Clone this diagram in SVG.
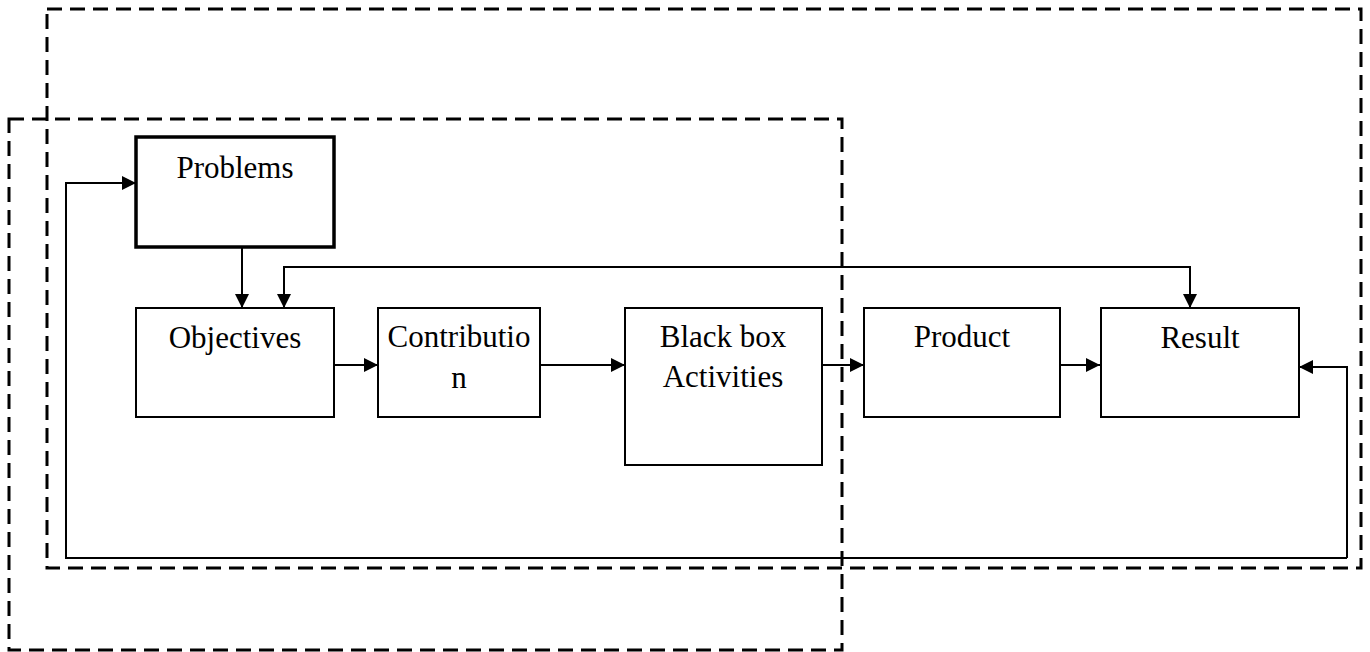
<svg xmlns="http://www.w3.org/2000/svg" width="1370" height="652" viewBox="0 0 1370 652">
  <defs>
    <style>
      .frame { fill: none; stroke: #000; stroke-width: 3; stroke-dasharray: 15 8; }
      .box { fill: #fff; stroke: #000; stroke-width: 2; }
      .box-bold { fill: #fff; stroke: #000; stroke-width: 3.5; }
      .label { font-family: "Liberation Serif", "Times New Roman", serif; font-size: 31px; fill: #000; text-anchor: middle; }
      .wire { fill: none; stroke: #000; stroke-width: 2; }
    </style>
    <marker id="arrow" viewBox="0 0 14 14" refX="14" refY="7" markerWidth="14" markerHeight="14" markerUnits="userSpaceOnUse" orient="auto">
      <path d="M0,0 L14,7 L0,14 Z" fill="#000"/>
    </marker>
  </defs>

  <rect width="1370" height="652" fill="#fff"/>

  <!-- dashed grouping frames -->
  <g id="frames">
    <rect class="frame" x="47" y="9" width="1314" height="559"/>
    <rect class="frame" x="9" y="119" width="833" height="531"/>
  </g>

  <!-- connectors -->
  <g id="connectors">
    <path class="wire" d="M242,247 V308" marker-end="url(#arrow)"/>
    <path class="wire" d="M1190,267 H284 V308" marker-end="url(#arrow)"/>
    <path class="wire" d="M284,267 H1190 V308" marker-end="url(#arrow)"/>
    <path class="wire" d="M334,365 H378" marker-end="url(#arrow)"/>
    <path class="wire" d="M540,365 H625" marker-end="url(#arrow)"/>
    <path class="wire" d="M822,365 H864" marker-end="url(#arrow)"/>
    <path class="wire" d="M1060,365 H1100" marker-end="url(#arrow)"/>
    <path class="wire" d="M1347,558 V367 H1299" marker-end="url(#arrow)"/>
    <path class="wire" d="M1347,558 H66 V183 H136" marker-end="url(#arrow)"/>
  </g>

  <g id="problems">
    <rect class="box-bold" x="136" y="137" width="198" height="110"/>
    <text class="label" x="235" y="178">Problems</text>
  </g>
  <g id="objectives">
    <rect class="box" x="136" y="308" width="198" height="109"/>
    <text class="label" x="235" y="348">Objectives</text>
  </g>
  <g id="contribution">
    <rect class="box" x="378" y="308" width="162" height="109"/>
    <text class="label" x="459" y="347">Contributio</text>
    <text class="label" x="459" y="388">n</text>
  </g>
  <g id="black-box">
    <rect class="box" x="625" y="308" width="197" height="157"/>
    <text class="label" x="723" y="347">Black box</text>
    <text class="label" x="723" y="387">Activities</text>
  </g>
  <g id="product">
    <rect class="box" x="864" y="308" width="196" height="109"/>
    <text class="label" x="962" y="347">Product</text>
  </g>
  <g id="result">
    <rect class="box" x="1101" y="308" width="198" height="109"/>
    <text class="label" x="1200" y="348">Result</text>
  </g>
</svg>
